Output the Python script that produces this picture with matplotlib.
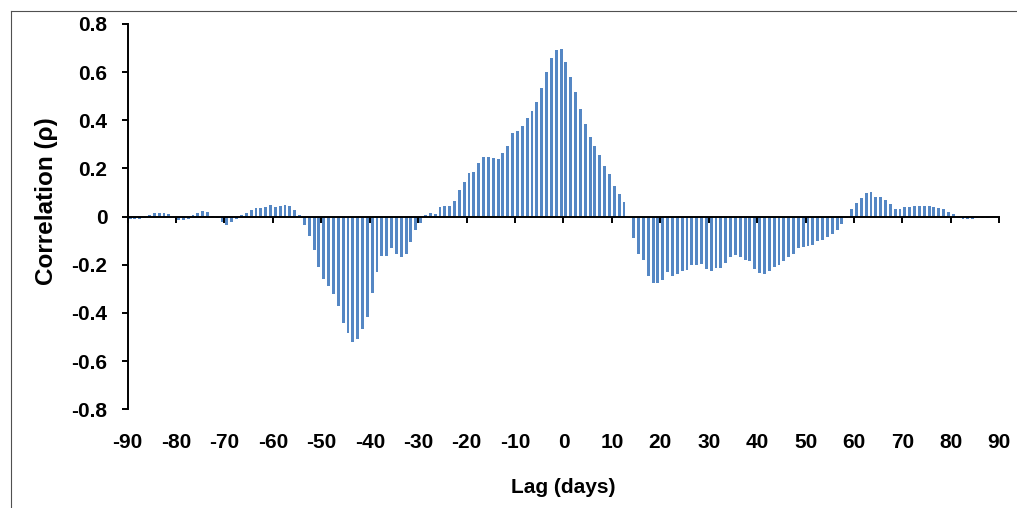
import matplotlib

matplotlib.use("Agg")
import matplotlib.pyplot as plt
import numpy as np
from matplotlib.lines import Line2D

# cross-correlation by lag (days)
lags = np.arange(-89, 91)
rho = [
    # -89 .. -80
    -0.008, -0.008, -0.008, -0.006, 0.005, 0.015, 0.017, 0.016, 0.011, -0.003,
    # -79 .. -70
    -0.014, -0.012, -0.008, 0.008, 0.015, 0.024, 0.018, 0.001, -0.006, -0.022,
    # -69 .. -60
    -0.033, -0.022, -0.010, 0.008, 0.017, 0.029, 0.034, 0.037, 0.040, 0.050,
    # -59 .. -50
    0.040, 0.046, 0.050, 0.045, 0.026, 0.007, -0.033, -0.080, -0.140, -0.210,
    # -49 .. -40
    -0.260, -0.290, -0.320, -0.370, -0.440, -0.485, -0.520, -0.510, -0.466, -0.418,
    # -39 .. -30
    -0.317, -0.230, -0.162, -0.162, -0.130, -0.154, -0.169, -0.154, -0.107, -0.054,
    # -29 .. -20
    -0.026, 0.005, 0.016, 0.013, 0.041, 0.044, 0.044, 0.063, 0.109, 0.145,
    # -19 .. -10
    0.180, 0.187, 0.221, 0.246, 0.246, 0.245, 0.240, 0.263, 0.293, 0.346,
    # -9 .. 0
    0.354, 0.375, 0.410, 0.440, 0.478, 0.536, 0.602, 0.660, 0.690, 0.695,
    # 1 .. 10
    0.641, 0.578, 0.518, 0.448, 0.386, 0.330, 0.292, 0.258, 0.212, 0.175,
    # 11 .. 20
    0.129, 0.092, 0.060, -0.005, -0.090, -0.155, -0.178, -0.248, -0.276, -0.276,
    # 21 .. 30
    -0.262, -0.230, -0.245, -0.237, -0.224, -0.220, -0.202, -0.202, -0.195, -0.216,
    # 31 .. 40
    -0.224, -0.213, -0.213, -0.192, -0.169, -0.158, -0.167, -0.182, -0.185, -0.217,
    # 41 .. 50
    -0.233, -0.240, -0.227, -0.209, -0.200, -0.186, -0.168, -0.155, -0.131, -0.127,
    # 51 .. 60
    -0.124, -0.117, -0.102, -0.095, -0.084, -0.072, -0.055, -0.032, -0.004, 0.031,
    # 61 .. 70
    0.056, 0.076, 0.098, 0.101, 0.083, 0.080, 0.069, 0.054, 0.031, 0.031,
    # 71 .. 80
    0.039, 0.042, 0.044, 0.044, 0.044, 0.044, 0.039, 0.035, 0.031, 0.021,
    # 81 .. 90
    0.011, -0.005, -0.010, -0.008, -0.008, -0.005, -0.006, -0.004, -0.003, 0.000,
]

x_ticks = list(range(-90, 91, 10))
y_ticks = [-0.8, -0.6, -0.4, -0.2, 0.0, 0.2, 0.4, 0.6, 0.8]
y_labels = ["-0.8", "-0.6", "-0.4", "-0.2", "0", "0.2", "0.4", "0.6", "0.8"]

plt.rcParams["font.family"] = ["Liberation Sans", "DejaVu Sans"]
plt.rcParams["font.weight"] = "bold"

fig = plt.figure(figsize=(10.17, 5.08), dpi=100)
ax = fig.add_axes([0.1255, 0.1943, 0.8571, 0.7585])

# bars sit between the integer tick marks, as in the spreadsheet chart
ax.bar(lags - 0.5, rho, width=0.6, color="#5587C4", linewidth=0)

ax.set_xlim(-90, 90)
ax.set_ylim(-0.8, 0.8)

for side in ("top", "right"):
    ax.spines[side].set_visible(False)
ax.spines["bottom"].set_position(("data", 0))
ax.spines["bottom"].set_linewidth(1.4)
ax.spines["left"].set_linewidth(1.4)

ax.set_xticks(x_ticks)
ax.set_xticklabels([str(t) for t in x_ticks], fontsize=15, fontweight="bold")
ax.tick_params(axis="x", direction="out", length=4.5, width=1.4, pad=151)

ax.set_yticks(y_ticks)
ax.set_yticklabels(y_labels, fontsize=15, fontweight="bold")
ax.tick_params(axis="y", direction="out", length=4.5, width=1.4, pad=10)

ax.set_xlabel("Lag (days)", fontsize=15, fontweight="bold", va="center")
ax.xaxis.set_label_coords(0.5, -0.2017)
ax.set_ylabel("Correlation (\u03c1)", fontsize=17.5, fontweight="bold", va="center")
ax.yaxis.set_label_coords(-0.093, 0.54)

# thin frame lines along top and left edge of the picture
fx, fy = 10.5 / 1017, 1 - 10.5 / 508
fig.add_artist(Line2D([fx, 1], [fy, fy], transform=fig.transFigure, color="#505050", lw=0.8))
fig.add_artist(Line2D([fx, fx], [0, fy], transform=fig.transFigure, color="#505050", lw=0.8))

fig.savefig("out.png", dpi=100)
plt.close(fig)
